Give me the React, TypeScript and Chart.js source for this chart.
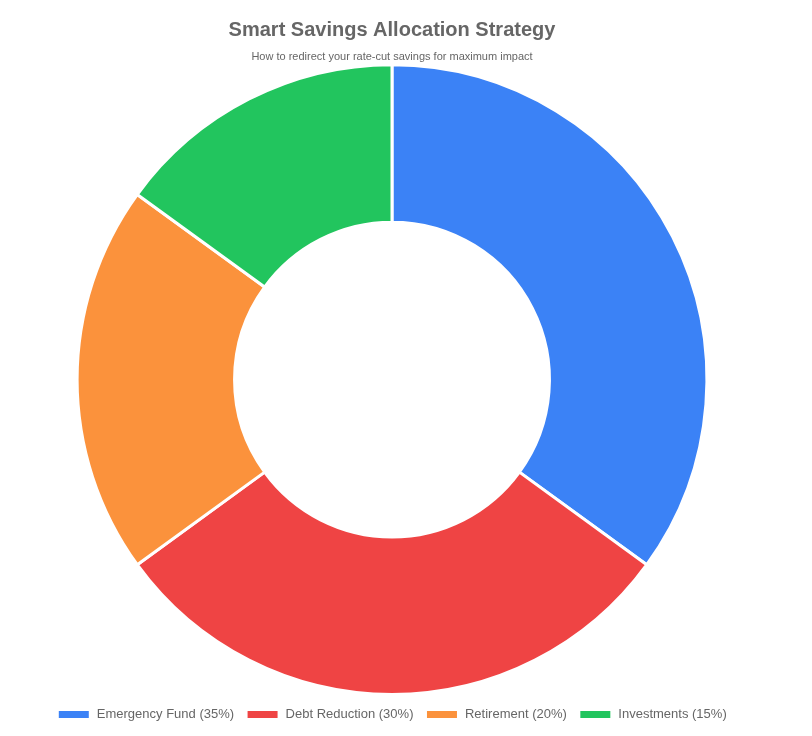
import React, { useEffect, useRef } from 'react';
import Chart from 'chart.js/auto';

const categories = ['Emergency Fund (35%)', 'Debt Reduction (30%)', 'Retirement (20%)', 'Investments (15%)'];
const shares = [35, 30, 20, 15];
const sliceColors = ['#3b82f6', '#ef4444', '#fb923c', '#22c55e'];

const App = () => {
  const chartRef = useRef<HTMLCanvasElement>(null);
  const chartInstanceRef = useRef<Chart>();

  useEffect(() => {
    if (chartRef.current) {
      const ctx = chartRef.current.getContext('2d');
      if (ctx) {
        if (chartInstanceRef.current) {
          chartInstanceRef.current.destroy();
        }
        chartInstanceRef.current = new Chart(ctx, {
          type: 'doughnut',
          data: {
            labels: categories,
            datasets: [{
              data: shares,
              backgroundColor: sliceColors,
              borderColor: '#ffffff',
              borderWidth: 3,
            }]
          },
          options: {
            animation: false,
            responsive: true,
            maintainAspectRatio: false,
            cutout: '50%',
            plugins: {
              title: {
                display: true,
                text: 'Smart Savings Allocation Strategy',
                color: '#666',
                font: { family: 'Liberation Sans, Arial, sans-serif', size: 20, weight: 'bold' },
                padding: { top: 10, bottom: 8 },
              },
              subtitle: {
                display: true,
                text: 'How to redirect your rate-cut savings for maximum impact',
                color: '#666',
                font: { family: 'Liberation Sans, Arial, sans-serif', size: 11 },
                padding: { bottom: 0 },
              },
              legend: {
                position: 'bottom',
                labels: {
                  color: '#666',
                  boxWidth: 33,
                  boxHeight: 10,
                  padding: 12,
                  font: { family: 'Liberation Sans, Arial, sans-serif', size: 13 },
                },
              },
            },
          }
        });
      }
    }
    return () => {
      if (chartInstanceRef.current) {
        chartInstanceRef.current.destroy();
      }
    };
  }, []);

  return (
    <div style={{ width: 768, height: 723, position: 'relative' }}>
      <canvas ref={chartRef} />
    </div>
  );
};

export default App;
